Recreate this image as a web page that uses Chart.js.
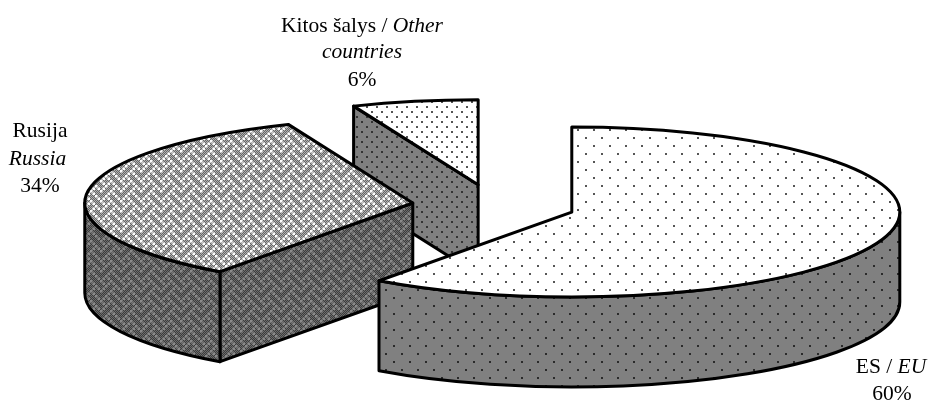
<!DOCTYPE html>
<html>
<head>
<meta charset="utf-8">
<style>
    html, body { margin: 0; padding: 0; background: #fff; }
    #wrap { width: 928px; height: 402px; }
</style>
<script src="https://cdn.jsdelivr.net/npm/chart.js@4"></script>
</head>
<body>
<div id="wrap"><canvas id="pieChart"></canvas></div>
<script>
// Chart data
const categories = ['ES / EU', 'Rusija / Russia', 'Kitos šalys / Other countries'];
const shares = [60, 33.8, 6.2];

// Label lines per slice, [text, italic] runs; the last line is the percentage
const labelLines = [
    [[['ES / ', false], ['EU', true]]],
    [[['Rusija', false]], [['Russia', true]]],
    [[['Kitos šalys / ', false], ['Other', true]], [['countries', true]]]
];

// 3D look
const SQUASH = 0.259;
const DEPTH = 90;
const RADIUS = 328;
const EXPLODE = 81.8;
const LINE = 3;

// Label placement: centre x per line, baselines
const labelCenters = [[891, 892], [40, 37.5, 40], [362, 362, 362]];
const labelBaselines = [[373, 400], [137, 165, 192], [32, 58, 86]];

function makeTile(size, draw) {
    const c = document.createElement('canvas');
    c.width = c.height = size;
    draw(c.getContext('2d'));
    return document.createElement('canvas').getContext('2d').createPattern(c, 'repeat');
}

function dotTile(size, bg, dot) {
    return makeTile(size, g => {
        if (bg) { g.fillStyle = bg; g.fillRect(0, 0, size, size); }
        g.fillStyle = dot;
        g.fillRect(1, 1, 2, 2);
        g.fillRect(1 + size / 2, 1 + size / 2, 2, 2);
    });
}

// Excel's weave hatch, 8x8 bits scaled up: light bars on a grainy dark field
const weaveBits = [0x88, 0x54, 0x22, 0x45, 0x88, 0x14, 0x22, 0x51];
const WEAVE_SCALE = 2.5;
function weaveTile(grainA, grainB, bar) {
    const size = 8 * WEAVE_SCALE;
    return makeTile(size, g => {
        for (let y = 0; y < size; y++) {
            for (let x = 0; x < size; x++) {
                g.fillStyle = (x + y) % 2 ? grainA : grainB;
                g.fillRect(x, y, 1, 1);
            }
        }
        g.fillStyle = bar;
        weaveBits.forEach((row, y) => {
            for (let x = 0; x < 8; x++) {
                if (row & (0x80 >> x)) g.fillRect(x * WEAVE_SCALE, y * WEAVE_SCALE, WEAVE_SCALE, WEAVE_SCALE);
            }
        });
    });
}

const topFills = [
    dotTile(16, '#ffffff', '#555555'),
    weaveTile('#666666', '#b0b0b0', '#ffffff'),
    dotTile(10, '#ffffff', '#555555')
];
const sideFills = [
    dotTile(16, '#808080', '#2a2a2a'),
    weaveTile('#3c3c3c', '#6c6c6c', '#8a8a8a'),
    dotTile(10, '#808080', '#333333')
];

function paint(ctx, fill) {
    ctx.fillStyle = fill;
    ctx.fill();
    ctx.lineWidth = LINE;
    ctx.lineJoin = 'round';
    ctx.strokeStyle = '#000';
    ctx.stroke();
}

// Draw the arcs the doughnut controller laid out as exploded 3D slices
const pie3d = {
    id: 'pie3d',
    beforeDatasetDraw(chart, args) {
        const ctx = chart.ctx;
        const arcs = args.meta.data;
        ctx.save();
        // back to front: other countries, Russia, EU
        for (let i = arcs.length - 1; i >= 0; i--) {
            const arc = arcs[i];
            const a0 = arc.startAngle;
            const a1 = arc.endAngle;
            const mid = (a0 + a1) / 2;
            const r = arc.outerRadius;
            const cx = arc.x + Math.cos(mid) * arc.options.offset;
            const cy = arc.y + Math.sin(mid) * arc.options.offset * SQUASH;
            const ry = r * SQUASH;

            // cut faces turned towards the viewer
            [[a0, Math.sin(a0 - Math.PI / 2)], [a1, Math.sin(a1 + Math.PI / 2)]].forEach(([a, facing]) => {
                if (facing <= 0.001) return;
                const px = cx + r * Math.cos(a);
                const py = cy + ry * Math.sin(a);
                ctx.beginPath();
                ctx.moveTo(cx, cy);
                ctx.lineTo(px, py);
                ctx.lineTo(px, py + DEPTH);
                ctx.lineTo(cx, cy + DEPTH);
                ctx.closePath();
                paint(ctx, sideFills[i]);
            });

            // outer wall, only the lower half of the ellipse shows
            const w0 = Math.max(a0, 0);
            const w1 = Math.min(a1, Math.PI);
            if (w1 > w0) {
                ctx.beginPath();
                ctx.ellipse(cx, cy, r, ry, 0, w0, w1);
                ctx.ellipse(cx, cy + DEPTH, r, ry, 0, w1, w0, true);
                ctx.closePath();
                paint(ctx, sideFills[i]);
            }

            // top
            ctx.beginPath();
            ctx.moveTo(cx, cy);
            ctx.ellipse(cx, cy, r, ry, 0, a0, a1);
            ctx.closePath();
            paint(ctx, arc.options.backgroundColor);
        }
        ctx.restore();
        return false;
    },
    afterDraw(chart) {
        const ctx = chart.ctx;
        ctx.save();
        ctx.fillStyle = '#000';
        ctx.textBaseline = 'alphabetic';
        ctx.textAlign = 'left';
        const regular = '21.5px "Liberation Serif"';
        const italic = 'italic 21.5px "Liberation Serif"';
        labelLines.forEach((lines, i) => {
            const all = lines.concat([[[`${Math.round(shares[i])}%`, false]]]);
            all.forEach((runs, n) => {
                let width = 0;
                runs.forEach(([text, it]) => {
                    ctx.font = it ? italic : regular;
                    width += ctx.measureText(text).width;
                });
                let x = labelCenters[i][n] - width / 2;
                runs.forEach(([text, it]) => {
                    ctx.font = it ? italic : regular;
                    ctx.fillText(text, x, labelBaselines[i][n]);
                    x += ctx.measureText(text).width;
                });
            });
        });
        ctx.restore();
    }
};

new Chart(document.getElementById('pieChart'), {
    type: 'pie',
    data: {
        labels: categories,
        datasets: [{
            data: shares,
            backgroundColor: topFills,
            borderWidth: 0,
            offset: EXPLODE,
            radius: RADIUS
        }]
    },
    options: {
        responsive: true,
        maintainAspectRatio: false,
        animation: false,
        events: [],
        layout: { padding: { left: 60, top: 9 } },
        plugins: {
            legend: { display: false },
            tooltip: { enabled: false }
        }
    },
    plugins: [pie3d]
});
</script>
</body>
</html>
